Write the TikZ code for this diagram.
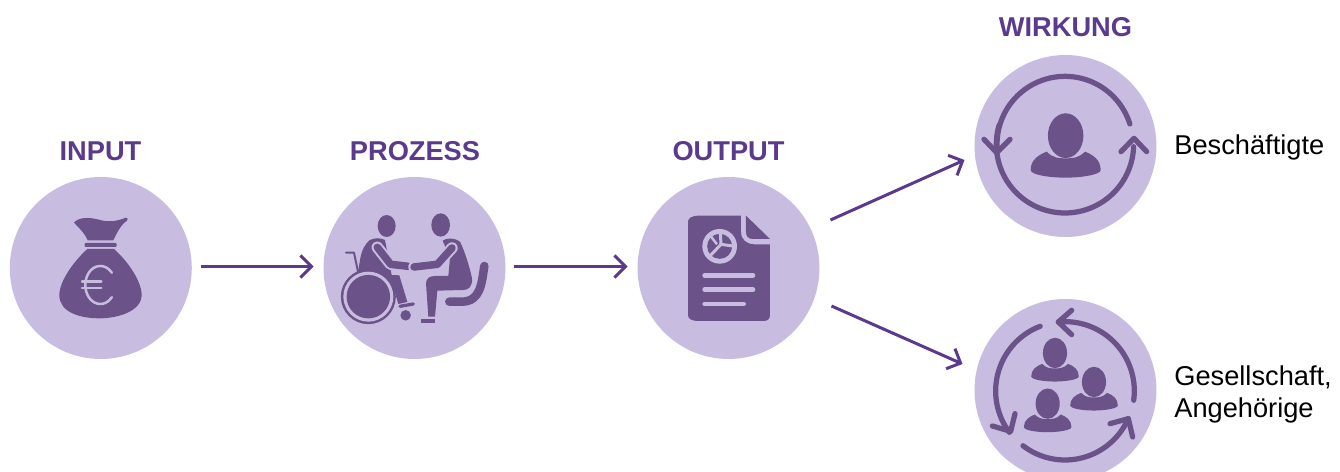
\documentclass[tikz,border=0pt]{standalone}
\usepackage{fontspec}
\setmainfont{Liberation Sans}
\usetikzlibrary{arrows.meta,calc}
\definecolor{disc}{HTML}{C8BDE0}
\definecolor{icon}{HTML}{6B5289}
\definecolor{ink}{HTML}{5B3A8E}
\tikzset{
  disc/.style={circle,fill=disc,draw=none,minimum size=3.64cm,inner sep=0pt,outer sep=0pt},
  head/.style={font=\fontsize{15.5}{18}\selectfont\bfseries,text=ink,anchor=base,inner sep=0pt},
  side/.style={font=\fontsize{15.5}{18.7}\selectfont,text=black,anchor=base west,inner sep=0pt,align=left},
  flow/.style={draw=ink,line width=0.06cm,-{Straight Barb[length=0.22cm,width=0.44cm,line width=0.06cm]}},
  ring/.style={draw=icon,line width=0.105cm,line cap=round,line join=round},
  zoomed/.style={x=0.00666667cm,y=-0.00666667cm}
}
\newcommand{\ringarc}[5]{\draw[ring] plot[smooth,domain=#4:#5,samples=50] ({#1+#3*cos(\x)},{#2-#3*sin(\x)});}
\newcommand{\personicon}[3]{%
  \begin{scope}[shift={(#1,#2)},scale=#3]
    \fill[icon] (0,0) ellipse [x radius=0.355cm,y radius=0.447cm];
    \fill[icon] (-105,103) .. controls (-105,73) and (-82,58) .. (-57,48)
      .. controls (-37,68) and (-20,68) .. (0,68)
      .. controls (20,68) and (38,68) .. (58,48)
      .. controls (83,58) and (105,73) .. (105,103)
      .. controls (105,118) and (43,126) .. (0,126)
      .. controls (-47,126) and (-105,118) .. (-105,103) -- cycle;
  \end{scope}}
\begin{document}
\begin{tikzpicture}[x=0.02cm,y=-0.02cm]
\clip (0,0) rectangle (1340,472);
\useasboundingbox (0,0) rectangle (1340,472);
\fill[white] (0,0) rectangle (1340,472);
% discs
\node[disc] (input) at (100.8,268) {};
\node[disc] (process) at (414.5,268) {};
\node[disc] (output) at (728.5,268) {};
\node[disc] (wirkung) at (1065.5,146) {};
\node[disc] (gesell) at (1065.5,390) {};
% labels
\node[head] (tinput) at (100.5,161) {INPUT};
\node[head] (tprocess) at (415,161) {PROZESS};
\node[head] (toutput) at (728.5,161) {OUTPUT};
\node[head] (twirkung) at (1065.5,37) {WIRKUNG};
\node[side] (lbesch) at (1174,155) {Beschäftigte};
\node[side] (lges) at (1174,386) {Gesellschaft,};
\node[side] (lang) at (1174,418) {Angehörige};
% connectors
\coordinate (a1) at ($(input.east)+(9,-1.5)$);
\coordinate (a2) at ($(process.west)+(-10,-1.5)$);
\coordinate (b1) at ($(process.east)+(9,-1.5)$);
\coordinate (b2) at ($(output.west)+(-10,-1.5)$);
\coordinate (c1) at ($(output.east)+(11,-48)$);
\coordinate (c2) at ($(wirkung.west)+(-10,14)$);
\coordinate (d1) at ($(output.east)+(12,38)$);
\coordinate (d2) at ($(gesell.west)+(-12,-26)$);
\draw[flow] (a1) -- (a2);
\draw[flow] (b1) -- (b2);
\draw[flow] (c1) -- (c2);
\draw[flow] (d1) -- (d2);
% money bag
\begin{scope}[shift={(0,170)},zoomed]
  \fill[icon] (222,158) .. controls (235,142) and (265,140) .. (300,150)
    .. controls (330,158) and (355,152) .. (378,143) .. controls (385,142) and (385,150) .. (380,153)
    .. controls (362,165) and (350,190) .. (340,211) -- (263,211)
    .. controls (255,190) and (235,172) .. (222,158) -- cycle;
  \fill[icon,rounded corners=0.02cm] (254,219) rectangle (350,231);
  \fill[icon] (262,237) -- (342,237) .. controls (385,275) and (425,335) .. (425,375)
    .. controls (425,425) and (350,445) .. (300,445)
    .. controls (235,445) and (178,425) .. (178,375)
    .. controls (178,335) and (220,275) .. (262,237) -- cycle;
  \draw[draw=disc,line width=0.05cm,line cap=round]
    plot[smooth,domain=40:320,samples=40] ({301+45*cos(\x)},{345-57*sin(\x)});
  \draw[draw=disc,line width=0.047cm,line cap=round] (246,335) -- (304,335) (246,355) -- (304,355);
\end{scope}
% wheelchair scene
\begin{scope}[shift={(320,170)},zoomed]
  \fill[icon] (200,168) ellipse [x radius=0.18cm,y radius=0.22cm];
  \fill[icon] (362,165) ellipse [x radius=0.187cm,y radius=0.233cm];
  \draw[icon,line width=0.04cm,line join=round,line cap=round] (78,248) -- (102,248) -- (114,305);
  % left torso and leg
  \fill[icon] (150,210) .. controls (165,203) and (180,203) .. (195,210) -- (215,315) -- (238,316)
    -- (262,396) -- (235,402) -- (218,345) -- (112,320) -- (120,270) .. controls (125,240) and (135,222) .. (150,210) -- cycle;
  % left arm
  \draw[draw=disc,line cap=round,line join=round,line width=0.23cm] (172,232) -- (212,283) -- (265,289);
  \draw[icon,line cap=round,line join=round,line width=0.15cm] (172,232) -- (212,283) -- (265,289);
  % wheel
  \fill[icon] (145,380) circle [radius=0.55cm];
  \fill[disc] (145,380) circle [radius=0.5cm];
  \fill[icon] (145,380) circle [radius=0.435cm];
  % foot
  \draw[icon,line cap=round,line width=0.065cm] (240,409) -- (280,402);
  \fill[icon] (257,436) circle [radius=0.105cm];
  % right figure
  \fill[icon] (368,212) .. controls (380,203) and (405,203) .. (420,215)
    .. controls (435,245) and (450,295) .. (456,325) .. controls (458,350) and (445,360) .. (430,360)
    -- (352,362) -- (345,440) -- (325,440) -- (318,340) .. controls (318,325) and (330,318) .. (345,318)
    -- (385,318) -- (390,265) -- cycle;
  \fill[icon] (303,447) rectangle (345,459);
  \draw[draw=disc,line cap=round,line join=round,line width=0.23cm] (396,234) -- (352,283) -- (282,291);
  \draw[icon,line cap=round,line join=round,line width=0.15cm] (396,234) -- (352,283) -- (282,291);
  % chair
  \draw[icon,line cap=round,line width=0.17cm] (493,288) .. controls (485,340) and (482,395) .. (425,395) -- (388,395);
\end{scope}
% document
\begin{scope}[shift={(635,175)},zoomed]
  \fill[icon] (192,122) -- (318,122) -- (318,170) .. controls (318,195) and (335,208) .. (360,208) -- (405,208)
    -- (405,420) .. controls (405,432) and (397,438) .. (387,438) -- (192,438)
    .. controls (170,438) and (159,432) .. (159,420) -- (159,140) .. controls (159,130) and (170,122) .. (192,122) -- cycle;
  \fill[icon] (333,122) -- (405,192) -- (355,192) .. controls (340,192) and (333,185) .. (333,170) -- cycle;
  \fill[disc] (254,214) circle [radius=0.347cm];
  \fill[icon] (254,214) circle [radius=0.25cm];
  \draw[draw=disc,line width=0.06cm] (256,172) -- (258,208) -- (300,214);
  \draw[draw=disc,line width=0.06cm] (262,204) -- (222,246);
  \draw[draw=disc,line width=0.05cm] (226,182) -- (246,208);
  \draw[draw=disc,line width=0.093cm,line cap=round] (209,301) -- (354,301) (209,344) -- (354,344) (209,387) -- (326,387);
\end{scope}
% effect 1
\begin{scope}[shift={(970,50)},zoomed]
  \ringarc{285}{283}{204}{17.4}{185}
  \ringarc{285}{283}{206}{-196}{-2}
  \draw[ring] (42,268) -- (80,308) -- (120,268);
  \draw[ring] (453,305) -- (492,265) -- (530,305);
  \personicon{287}{257}{1}
\end{scope}
% effect 2
\begin{scope}[shift={(970,292)},zoomed]
  \ringarc{285}{297}{208}{111}{216.6}
  \ringarc{285}{297}{207}{232.5}{336.4}
  \ringarc{285}{297}{208}{-7.7}{95.5}
  \draw[ring] (67,402) -- (122,418) -- (135,365);
  \draw[ring] (420,395) -- (475,380) -- (488,435);
  \draw[ring] (305,55) -- (265,90) -- (305,128);
  \personicon{255}{183}{0.68}
  \personicon{372}{270}{0.68}
  \personicon{233}{335}{0.68}
\end{scope}
\end{tikzpicture}
\end{document}
